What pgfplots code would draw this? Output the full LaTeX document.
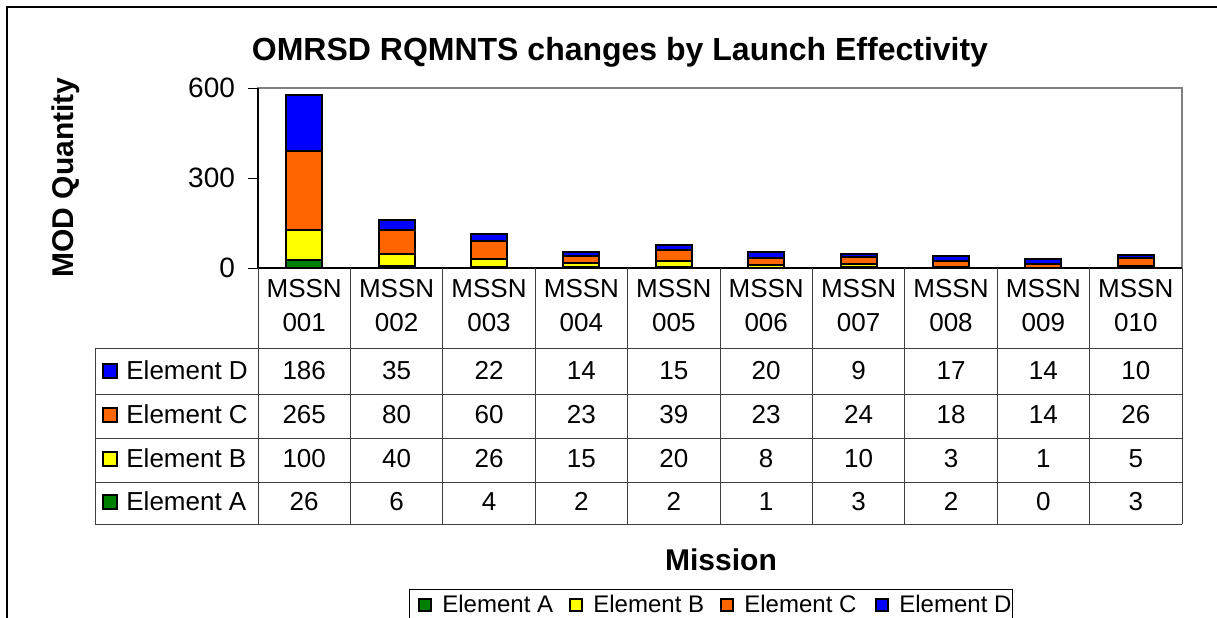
\documentclass[border=0pt]{standalone}
\usepackage{pgfplots}
\usepackage{pgfplotstable}
\pgfplotsset{compat=1.18}
\usepackage{fontspec}
\setmainfont{Liberation Sans}
\definecolor{elA}{HTML}{008000}
\definecolor{elB}{HTML}{FFFF00}
\definecolor{elC}{HTML}{FF6600}
\definecolor{elD}{HTML}{0000FF}
\definecolor{tabline}{HTML}{404040}

% MOD quantity per mission, one column per element
\pgfplotstableread{
x A B C D
0 26 100 265 186
1 6 40 80 35
2 4 26 60 22
3 2 15 23 14
4 2 20 39 15
5 1 8 23 20
6 3 10 24 9
7 2 3 18 17
8 0 1 14 14
9 3 5 26 10
}\omrsd

\newcommand\fs[1]{\fontsize{#1}{#1}\selectfont}

\begin{document}
\begin{tikzpicture}[x=0.5pt,y=-0.5pt]
\clip (0,0) rectangle (1217,617);
\fill[white] (0,0) rectangle (1217,617);
\draw[black, line width=0.8pt] (7,640) -- (7,7) -- (1240,7);

\node[anchor=base, font=\bfseries\fs{16}] at (620,60) {OMRSD RQMNTS changes by Launch Effectivity};
\node[anchor=base, rotate=90, font=\bfseries\fs{15}] at (73,177.5) {MOD Quantity};

\begin{axis}[
  at={(129pt,-134pt)}, anchor=south west,
  width=462pt, height=90pt, scale only axis,
  ybar stacked, bar width=18pt,
  xmin=-0.5, xmax=9.5, ymin=0, ymax=600,
  xtick=\empty, ytick={0,300,600}, ytick pos=left,
  tick align=outside, major tick length=5pt,
  ytick style={black, line width=0.5pt},
  axis line style={draw=gray, line width=1pt},
  yticklabel style={font=\fs{14}, xshift=-3pt,
    /pgf/number format/assume math mode=true},
  clip=false,
]
\addplot[fill=elA, draw=black, line width=1pt] table[x=x,y=A]{\omrsd};
\addplot[fill=elB, draw=black, line width=1pt] table[x=x,y=B]{\omrsd};
\addplot[fill=elC, draw=black, line width=1pt] table[x=x,y=C]{\omrsd};
\addplot[fill=elD, draw=black, line width=1pt] table[x=x,y=D]{\omrsd};
\draw[black, line width=0.7pt] (rel axis cs:0,1) -- (rel axis cs:0,0) -- (rel axis cs:1,0);
\end{axis}

% data table
\begin{scope}[draw=tabline, line width=0.5pt]
\foreach \yy in {348,394,438,482,524} \draw (95,\yy) -- (1182,\yy);
\draw (95,348) -- (95,524);
\foreach \k in {0,...,10} \draw ({258+92.4*\k},268) -- ({258+92.4*\k},524);
\end{scope}

\foreach \k/\lab in {0/001,1/002,2/003,3/004,4/005,5/006,6/007,7/008,8/009,9/010} {
  \node[anchor=base, font=\fs{13}] at ({258+92.4*(\k+0.5)},297) {MSSN};
  \node[anchor=base, font=\fs{13}] at ({258+92.4*(\k+0.5)},331) {\lab};
}

\foreach \col/\yb in {D/379, C/423, B/467, A/510} {
  \filldraw[fill=el\col, draw=black, line width=0.6pt] (103,\yb-15) rectangle (117,\yb-1);
  \node[anchor=base west, inner sep=0pt, font=\fs{13}] at (126,\yb) {Element \col};
  \foreach \k in {0,...,9} {
    \pgfplotstablegetelem{\k}{\col}\of\omrsd
    \node[anchor=base, font=\fs{13}] at ({258+92.4*(\k+0.5)},\yb) {\pgfplotsretval};
  }
}

\node[anchor=base, font=\bfseries\fs{15}] at (721,570) {Mission};

% legend
\draw[black, line width=0.5pt] (409,589) rectangle (1012,640);
\foreach \col/\xs in {A/419, B/570, C/721, D/876} {
  \filldraw[fill=el\col, draw=black, line width=0.6pt] (\xs,599) rectangle (\xs+12,611);
  \node[anchor=base west, inner sep=0pt, font=\fs{12}] at (\xs+23,612) {Element \col};
}
\end{tikzpicture}
\end{document}
